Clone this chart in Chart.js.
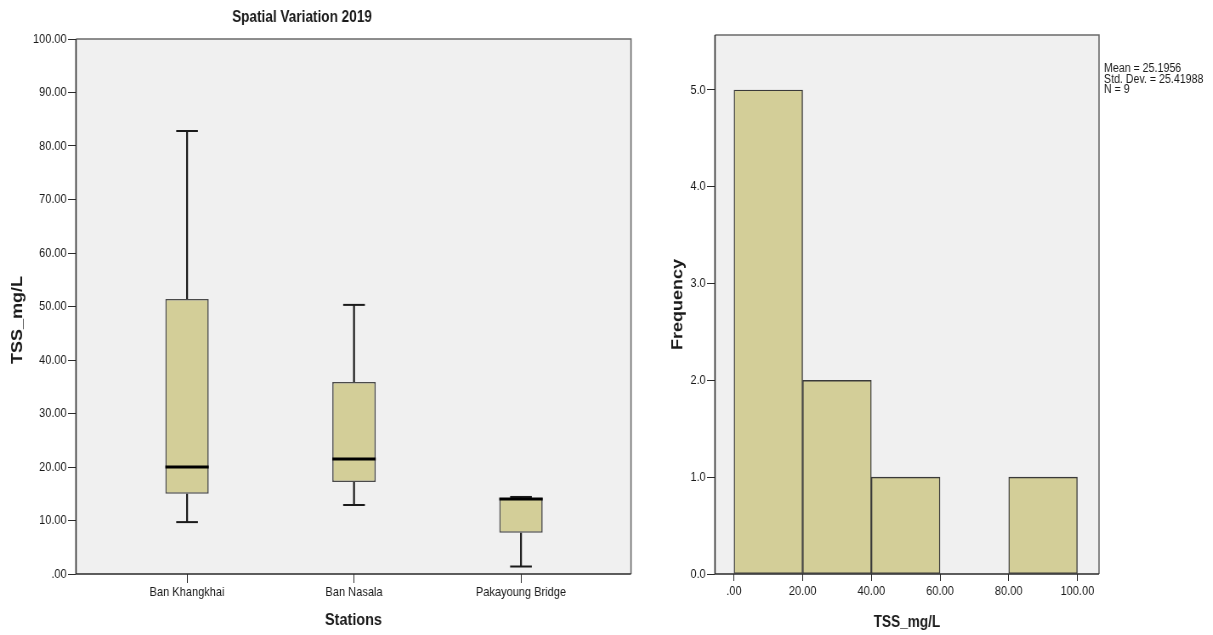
<!DOCTYPE html>
<html>
<head>
<meta charset="utf-8">
<title>TSS spatial variation 2019</title>
<script src="https://cdn.jsdelivr.net/npm/chart.js@4/dist/chart.umd.min.js"></script>
<style>
  html, body { margin: 0; padding: 0; background: #ffffff; }
  #wrap { position: relative; width: 1213px; height: 635px; overflow: hidden; }
  #boxChart { position: absolute; left: 0; top: 0; }
  #histChart { position: absolute; left: 650px; top: 0; }
</style>
</head>
<body>
<div id="wrap">
  <canvas id="boxChart"></canvas>
  <canvas id="histChart"></canvas>
</div>
<script>
// ---- Box plot: TSS by station (five-number summaries) ----
const stations     = ['Ban Khangkhai', 'Ban Nasala', 'Pakayoung Bridge'];
const whiskerLow   = [9.7, 12.9, 1.4];
const quartile1    = [15.0, 17.2, 7.7];
const medians      = [20.0, 21.5, 14.0];
const quartile3    = [51.4, 35.9, 14.2];
const whiskerHigh  = [82.8, 50.3, 14.4];
const tssTicks     = [0, 10, 20, 30, 40, 50, 60, 70, 80, 90, 100];

// ---- Histogram of TSS_mg/L ----
const binEdges     = [0, 20, 40, 60, 80, 100];
const frequencies  = [5, 2, 1, 0, 1];
const freqTicks    = [0, 1, 2, 3, 4, 5];
const statLines    = ['Mean = 25.1956', 'Std. Dev. = 25.41988', 'N = 9'];

const SANS    = '"Liberation Sans", Arial, Helvetica, sans-serif';
const FILL    = '#d3ce98';
const EDGE    = '#3a3a3a';
const PLOT_BG = '#f0f0f0';
const TEXT    = '#1a1a1a';

// Both panels are drawn on a wider backing canvas and displayed condensed,
// giving the narrow SPSS-style lettering.
const SQUEEZE = 0.85;
function setupCanvas(id, cssW, cssH) {
  const c = document.getElementById(id);
  c.width = Math.round(cssW / SQUEEZE);
  c.height = cssH;
  c.style.width = cssW + 'px';
  c.style.height = cssH + 'px';
  return { canvas: c, k: c.width / cssW };
}

Chart.defaults.animation = false;
Chart.defaults.font.family = SANS;
Chart.defaults.color = TEXT;

// light grey plotting panel with a dark frame
const plotFrame = {
  id: 'plotFrame',
  beforeDatasetsDraw(chart) {
    const { ctx, chartArea: a } = chart;
    ctx.save();
    ctx.fillStyle = PLOT_BG;
    ctx.fillRect(a.left, a.top, a.right - a.left, a.bottom - a.top);
    ctx.restore();
  },
  afterDatasetsDraw(chart) {
    const { ctx, chartArea: a } = chart;
    ctx.save();
    ctx.lineWidth = 1.6;
    ctx.strokeStyle = '#6a6a6a';
    ctx.beginPath();
    ctx.moveTo(a.left, a.top); ctx.lineTo(a.right, a.top); ctx.lineTo(a.right, a.bottom);
    ctx.stroke();
    ctx.strokeStyle = '#2a2a2a';
    ctx.beginPath();
    ctx.moveTo(a.left, a.top); ctx.lineTo(a.left, a.bottom); ctx.lineTo(a.right, a.bottom);
    ctx.stroke();
    ctx.restore();
  }
};

// whiskers, caps and median bars drawn on the box elements
const boxParts = {
  id: 'boxParts',
  afterDatasetsDraw(chart) {
    const { ctx } = chart;
    const y = chart.scales.y;
    const meta = chart.getDatasetMeta(0);
    ctx.save();
    meta.data.forEach((el, i) => {
      const cx = el.x;
      const half = el.width / 2;
      const cap = el.width * 0.25;
      const pLow = y.getPixelForValue(whiskerLow[i]);
      const pQ1 = y.getPixelForValue(quartile1[i]);
      const pQ3 = y.getPixelForValue(quartile3[i]);
      const pHigh = y.getPixelForValue(whiskerHigh[i]);
      const pMed = y.getPixelForValue(medians[i]);
      ctx.strokeStyle = '#1a1a1a';
      ctx.lineWidth = 2.2;
      ctx.beginPath();
      if (pLow - pQ1 > 1) { ctx.moveTo(cx, pQ1); ctx.lineTo(cx, pLow); }
      if (pQ3 - pHigh > 1) { ctx.moveTo(cx, pQ3); ctx.lineTo(cx, pHigh); }
      ctx.stroke();
      ctx.lineWidth = 2;
      ctx.beginPath();
      ctx.moveTo(cx - cap, pLow); ctx.lineTo(cx + cap, pLow);
      ctx.stroke();
      ctx.strokeStyle = pQ3 - pHigh > 1 ? '#1a1a1a' : '#a0a0a0';
      ctx.beginPath();
      ctx.moveTo(cx - cap, pHigh); ctx.lineTo(cx + cap, pHigh);
      ctx.stroke();
      ctx.strokeStyle = '#000000';
      ctx.lineWidth = 3;
      ctx.beginPath();
      ctx.moveTo(cx - half, pMed); ctx.lineTo(cx + half, pMed);
      ctx.stroke();
    });
    ctx.restore();
  }
};

const tickFont = { family: SANS, size: 13 };
const tickGrid = (len) => ({ display: true, drawOnChartArea: false, drawTicks: true, tickLength: len,
                             color: '#2a2a2a', lineWidth: 1, offset: false });
const fixedTicks = (values) => (scale) => { scale.ticks = values.map(v => ({ value: v })); };
const decimals2 = (v) => v === 0 ? '.00' : v.toFixed(2);

// ---------- left panel ----------
const L = setupCanvas('boxChart', 650, 635);

// chart heading and vertical axis caption for the box plot
const boxCaptions = {
  id: 'boxCaptions',
  afterDraw(chart) {
    const { ctx } = chart;
    ctx.save();
    ctx.fillStyle = TEXT;
    ctx.textAlign = 'center';
    ctx.textBaseline = 'middle';
    ctx.font = 'bold 16px ' + SANS;
    ctx.fillText('Spatial Variation 2019', 302 * L.k, 18);
    ctx.translate(18 * L.k, 320);
    ctx.rotate(-Math.PI / 2);
    ctx.font = 'bold 18px ' + SANS;
    ctx.fillText('TSS_mg/L', 0, 0);
    ctx.restore();
  }
};

new Chart(L.canvas, {
  type: 'bar',
  data: {
    datasets: [{
      data: stations.map((s, i) => ({ x: i + 1, y: [quartile1[i], quartile3[i]] })),
      backgroundColor: FILL,
      borderColor: '#4a4a4a',
      borderWidth: 1.6,
      borderSkipped: false,
      categoryPercentage: 1,
      barPercentage: 0.26
    }]
  },
  options: {
    responsive: false,
    layout: { padding: { left: 0, right: 19 * L.k, top: 39, bottom: 0 } },
    plugins: {
      legend: { display: false },
      tooltip: { enabled: false },
      title: { display: false }
    },
    scales: {
      x: {
        type: 'linear',
        offset: false,
        min: 0.335, max: 3.659,
        afterBuildTicks: fixedTicks(stations.map((s, i) => i + 1)),
        afterFit: (s) => { s.height = 61; },
        ticks: { font: tickFont, padding: 2, maxRotation: 0, autoSkip: false,
                 callback: (v) => stations[v - 1] },
        grid: tickGrid(9),
        border: { display: false },
        title: { display: true, text: 'Stations', font: { family: SANS, size: 17, weight: 'bold' },
                 color: TEXT, padding: { top: 0, bottom: 4 } }
      },
      y: {
        type: 'linear',
        min: 0, max: 100,
        afterBuildTicks: fixedTicks(tssTicks),
        afterFit: (s) => { s.width = 76 * L.k; },
        ticks: { font: tickFont, padding: 1.5, callback: decimals2 },
        grid: tickGrid(8 * L.k),
        border: { display: false },
        title: { display: false }
      }
    }
  },
  plugins: [plotFrame, boxParts, boxCaptions]
});

// ---------- right panel ----------
const R = setupCanvas('histChart', 563, 635);

// summary statistics beside the histogram
const statsText = {
  id: 'statsText',
  afterDraw(chart) {
    const { ctx, chartArea: a } = chart;
    ctx.save();
    ctx.font = '12.5px ' + SANS;
    ctx.fillStyle = TEXT;
    ctx.textAlign = 'left';
    ctx.textBaseline = 'middle';
    statLines.forEach((t, i) => ctx.fillText(t, a.right + 5 * R.k, 69 + i * 10.3));
    ctx.restore();
  }
};

new Chart(R.canvas, {
  type: 'bar',
  data: {
    datasets: [{
      data: frequencies.map((f, i) => ({ x: (binEdges[i] + binEdges[i + 1]) / 2, y: f })),
      backgroundColor: FILL,
      borderColor: EDGE,
      borderWidth: 1.4,
      borderSkipped: false,
      categoryPercentage: 1,
      barPercentage: 1
    }]
  },
  options: {
    responsive: false,
    layout: { padding: { left: 0, right: 114 * R.k, top: 35, bottom: 0 } },
    plugins: { legend: { display: false }, tooltip: { enabled: false } },
    scales: {
      x: {
        type: 'linear',
        offset: false,
        min: -5.53, max: 106.3,
        afterBuildTicks: fixedTicks(binEdges),
        afterFit: (s) => { s.height = 61; },
        ticks: { font: tickFont, padding: 3, maxRotation: 0, autoSkip: false, callback: decimals2 },
        grid: tickGrid(7),
        border: { display: false },
        title: { display: true, text: 'TSS_mg/L', font: { family: SANS, size: 16, weight: 'bold' },
                 color: TEXT, padding: { top: 0, bottom: 3 } }
      },
      y: {
        type: 'linear',
        min: 0, max: 5.568,
        afterBuildTicks: fixedTicks(freqTicks),
        afterFit: (s) => { s.width = 65 * R.k; },
        ticks: { font: tickFont, padding: 1.5, callback: (v) => v.toFixed(1) },
        grid: tickGrid(8 * R.k),
        border: { display: false },
        title: { display: true, text: 'Frequency', font: { family: SANS, size: 18, weight: 'bold' },
                 color: TEXT, padding: { top: 28 * R.k - 10.8, bottom: 0 } }
      }
    }
  },
  plugins: [plotFrame, statsText]
});
</script>
</body>
</html>
